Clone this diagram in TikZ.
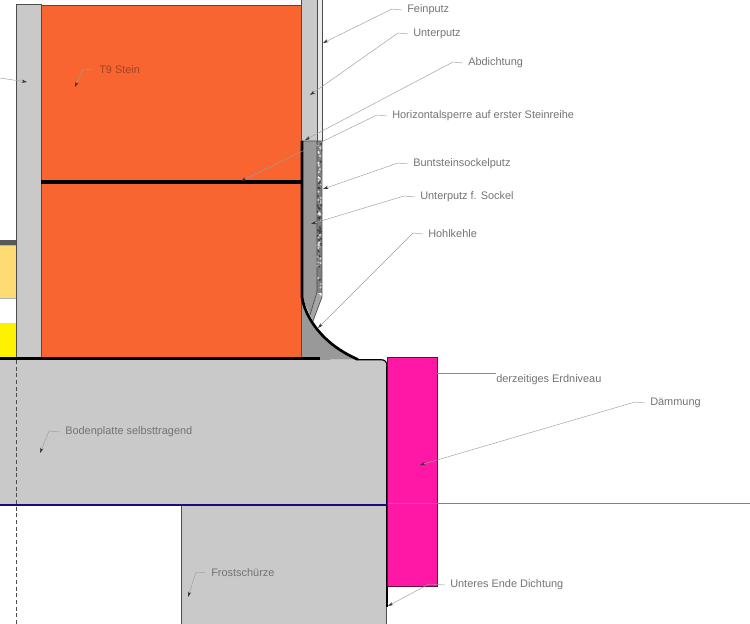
\documentclass[tikz,border=0pt]{standalone}
\usepackage{fontspec}
\setmainfont{Liberation Sans}
\usetikzlibrary{arrows.meta}
\definecolor{stein}{HTML}{F96530}
\definecolor{putz}{HTML}{C9C9C9}
\definecolor{sockel}{HTML}{999999}
\definecolor{daemm}{HTML}{FF18A6}
\definecolor{sperre}{HTML}{1C0A80}
\definecolor{niveau}{HTML}{D8604C}
\tikzset{
  lbl/.style={anchor=west,inner ysep=0pt,inner xsep=3.75pt,font=\fontsize{8.2}{9}\selectfont,text=black!55},
  leader/.style={draw=black!38,line width=.35pt,-{Stealth[length=4pt,width=2.4pt,black!80]}},
  edge/.style={draw=black!70,line width=.5pt}
}
\begin{document}
\begin{tikzpicture}[x=.75pt,y=-.75pt]
    \useasboundingbox (0,0) rectangle (750,624);

    % links neben der Wand
    \fill[black!65] (0,240) rectangle (16,245);
    \draw[fill=orange!50!yellow!55,draw=black!30,line width=.3pt] (-1,245) rectangle (16,298);
    \fill[yellow] (0,323) rectangle (16,358);

    % Wand
    \draw[edge,fill=putz] (16,4) rectangle (41,359);
    \draw[edge,fill=stein] (41,5) rectangle (301,359);
    \draw[black,line width=2.5pt] (41,182) -- (301,182);
    \draw[edge,fill=putz] (301,-2) rectangle (317,141);
    \draw[edge,fill=black!8] (317,-2) rectangle (322,141);

    % Sockel und Hohlkehle
    \fill[sockel] (302,141) -- (317,141) -- (317,292) -- (310,315) -- (302,297) -- cycle;
    \fill[sockel] (302,297) .. controls (305,317) and (322,344) .. (358,359.5) -- (302,360) -- cycle;
    \fill[black!50] (317,141) rectangle (322,293);
    \pgfmathsetseed{11}
    \foreach \x in {1,2,...,45}
    \fill[white,opacity=.65] (317.5+4*rnd,143+148*rnd) circle (1.3);
    \foreach \x in {1,2,...,35}
    \fill[black!90,opacity=.6] (317.5+4*rnd,143+148*rnd) circle (1.2);
    \fill[black!35] (317,292) -- (322,297) -- (313,321) -- (310,315) -- cycle;
    \draw[edge] (317,141) -- (317,292) -- (310,315);
    \draw[edge] (302,141) -- (322,141) -- (322,297) -- (313,321);

    % Bodenplatte und Frostschuerze
    \fill[putz] (-1,360) -- (383,360) -- (387,364) -- (387,505) -- (-1,505) -- cycle;
    \draw[edge,fill=putz] (181,505) -- (181,626) -- (386.5,626) -- (386.5,505);
    \draw[black!70,densely dashed,line width=.4pt] (16,360) -- (16,624);
    \draw[black,line width=2pt] (302,141) -- (302,297) .. controls (305,317) and (322,344) .. (358,359.5);
    \draw[black,line width=.9pt] (358,359.7) -- (381,359.7) .. controls (385,359.7) and (387,362) .. (387,366);
    \draw[black,line width=1.4pt] (387,366) -- (387,607);
    \draw[black,line width=2.2pt] (0,358.5) -- (320,358.5);

    % Daemmung und Linien
    \draw[draw=black!60!daemm,line width=.5pt,fill=daemm] (387.5,357) rectangle (437,586);
    \draw[niveau,line width=.6pt] (387.5,503.5) -- (750,503.5);
    \draw[sperre,line width=1.7pt] (0,505) -- (387,505);

    % Beschriftung
    \node[lbl] (feinputz) at (402,10) {Feinputz};
    \node[lbl] (unterputz) at (408,34) {Unterputz};
    \node[lbl] (abdichtung) at (463,63) {Abdichtung};
    \node[lbl] (sperrlage) at (387,116) {Horizontalsperre auf erster Steinreihe};
    \node[lbl] (buntstein) at (408,164) {Buntsteinsockelputz};
    \node[lbl] (unterSockel) at (415,197) {Unterputz f. Sockel};
    \node[lbl] (hohlkehle) at (423,234) {Hohlkehle};
    \node[lbl] (erdniveau) at (491,380) {derzeitiges Erdniveau};
    \node[lbl] (daemmung) at (645,403) {Dämmung};
    \node[lbl] (dichtung) at (445,585) {Unteres Ende Dichtung};
    \node[lbl] (frost) at (206,573) {Frostschürze};
    \node[lbl] (platte) at (60,432) {Bodenplatte selbsttragend};
    \node[lbl,text=black!35!stein] (t9) at (94,70) {T9 Stein};

    \coordinate (feinputzTip) at (323,43);
    \coordinate (unterputzTip) at (310,95);
    \coordinate (abdichtungTip) at (305,140);
    \coordinate (sperrlageTip) at (241,181);
    \coordinate (buntsteinTip) at (323,189);
    \coordinate (unterSockelTip) at (311,224);
    \coordinate (hohlkehleTip) at (318,328);
    \coordinate (daemmungTip) at (420,465);
    \coordinate (dichtungTip) at (388,606);
    \coordinate (frostTip) at (188,597);
    \coordinate (platteTip) at (40,453);
    \coordinate (t9Tip) at (75,87);
    \coordinate (linksStart) at (0,78);
    \coordinate (linksTip) at (27,82);
    \coordinate (erdniveauEnd) at (437,373);

    \foreach \n/\k in {feinputz/10,unterputz/10,abdichtung/10,sperrlage/10,buntstein/10,unterSockel/11,hohlkehle/10,daemmung/10,dichtung/16,frost/10,platte/11,t9/11}
    \draw[leader] (\n.west) -- ++(-\k,-1) -- (\n Tip);
    \draw[leader] (linksStart) -- (linksTip);
    \draw[black!45,line width=.7pt] (erdniveauEnd) -- (erdniveauEnd -| erdniveau.text);
\end{tikzpicture}
\end{document}
